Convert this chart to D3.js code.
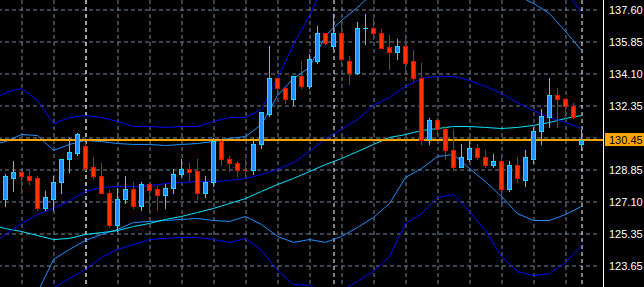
<!DOCTYPE html>
<html><head><meta charset="utf-8">
<script src="https://cdn.jsdelivr.net/npm/d3@7"></script>
<style>html,body{margin:0;padding:0;background:#000;overflow:hidden}</style>
</head><body>
<svg id="c" width="644" height="287"></svg>
<script>
// ---- candle data (bar index = position in array) ----
const open  = [127.21,128.41,128.74,128.52,128.36,126.77,127.26,128.14,129.40,129.73,130.16,128.96,128.52,127.59,125.79,127.21,127.81,126.83,128.08,127.81,127.48,127.86,128.63,128.90,128.79,127.54,128.14,130.43,129.45,129.23,128.85,128.85,130.22,131.91,133.83,133.28,132.73,133.94,133.39,134.81,136.29,135.63,136.34,134.76,134.15,136.58,136.61,136.34,135.57,135.25,135.63,134.76,133.83,130.54,131.58,131.04,129.89,129.01,129.45,130.05,129.51,129.12,129.34,127.81,129.07,128.30,129.45,130.93,131.74,132.90,132.68,132.35,130.24];
const high  = [128.58,129.34,128.79,128.85,128.47,127.70,128.52,129.45,130.55,130.82,130.38,129.51,129.23,127.75,127.86,128.52,128.14,128.19,128.19,127.97,128.08,128.90,129.45,129.23,129.45,128.52,130.55,130.49,129.61,129.34,129.45,130.55,132.02,135.63,133.88,133.39,133.99,134.76,135.14,136.72,136.34,137.38,136.89,135.08,136.89,137.33,137.11,136.56,136.18,136.01,136.18,135.36,134.70,131.69,131.69,131.20,131.04,130.22,130.43,130.27,129.94,129.72,129.61,129.29,129.51,129.94,131.20,132.18,133.88,133.33,132.73,132.46,131.09];
const low   = [126.83,127.65,127.59,128.03,126.66,126.61,126.66,127.54,128.69,129.67,128.85,128.41,127.54,125.73,125.51,127.04,126.77,126.66,126.61,126.61,126.77,127.59,128.52,128.25,127.21,127.37,127.97,129.07,128.79,128.52,128.47,128.63,130.00,131.80,133.00,132.46,132.40,133.33,133.28,134.70,135.69,135.47,134.59,133.50,134.05,135.69,135.96,135.47,134.37,134.92,134.10,133.72,130.27,130.27,130.71,129.45,128.85,128.96,129.29,129.45,128.96,128.96,127.04,127.65,128.14,127.97,129.18,130.27,131.20,131.20,131.69,131.69,129.94];
const close = [128.47,128.74,128.47,128.25,126.77,127.37,128.14,129.40,129.78,130.77,128.92,128.47,127.59,125.79,127.21,127.81,126.83,128.08,127.75,127.48,127.86,128.63,128.90,128.74,127.54,128.14,130.43,129.45,129.18,128.85,128.82,130.27,131.97,133.83,133.28,132.73,133.94,133.44,134.87,136.29,135.79,136.34,134.87,134.15,136.61,136.61,136.34,135.52,135.25,135.63,134.70,133.83,130.49,131.58,131.04,129.89,129.01,129.51,130.05,129.56,129.12,129.29,127.81,129.12,128.36,129.51,130.98,131.80,132.90,132.68,132.35,131.74,130.45];

// ---- indicator lines, read at these bar indices ----
const bandIndex = [-1,0,2,4,6,8,10,12,14,16,18,20,22,24,26,28,30,32,34,36,38,40,42,44,46,48,50,52,54,56,58,60,62,64,66,68,70,72];
const bbMiddle  = [124.97,125.30,125.90,126.39,126.72,127.15,127.65,127.87,127.92,127.92,127.97,128.08,128.14,128.19,128.19,128.25,128.36,128.58,128.85,129.23,129.83,130.55,131.04,131.58,132.35,132.79,133.39,133.83,133.94,133.94,133.72,133.39,133.01,132.51,132.08,131.69,131.42,131.09];
const movingAvg = [125.73,125.62,125.46,125.24,125.02,125.08,125.30,125.40,125.51,125.73,125.90,126.12,126.28,126.50,126.72,126.99,127.26,127.65,128.03,128.36,128.74,129.12,129.45,129.83,130.22,130.60,130.76,130.98,131.09,131.20,131.20,131.15,131.09,131.15,131.26,131.42,131.64,131.80];
const outerUpper = [132.79,133.06,133.28,132.62,131.37,131.69,131.80,131.69,131.48,131.20,131.20,131.15,131.20,131.20,131.48,131.69,131.69,132.13,133.83,135.69,137.27,139.19,140.83,141.92,142.74,143.29,143.56,143.29,142.74,142.19,141.65,141.10,140.55,140.01,139.46,138.91,138.64,137.44];
const innerUpper = [130.27,130.38,130.76,130.71,129.89,130.22,130.44,130.38,130.27,130.22,130.22,130.16,130.22,130.27,130.38,130.55,130.65,131.31,132.90,133.83,134.43,136.18,137.00,137.71,138.53,139.08,139.46,139.62,139.62,139.46,139.19,138.91,138.64,138.37,137.93,137.38,136.40,135.36];
const innerLower = [120.05,120.59,121.41,122.12,123.93,124.48,124.97,125.30,125.57,125.95,126.01,126.06,126.12,126.17,126.06,126.01,126.28,125.84,125.19,124.86,125.02,124.86,125.19,125.68,126.23,126.99,128.41,128.90,129.56,129.67,128.90,128.19,127.37,126.44,126.06,126.06,126.39,126.83];
const outerLower = [117.31,117.86,119.50,121.14,122.40,122.89,123.38,124.04,124.48,124.75,125.02,125.08,125.13,125.13,125.02,124.86,125.08,124.42,123.33,122.56,122.51,122.12,122.23,122.73,123.27,124.09,125.90,126.44,127.32,127.48,126.55,125.51,124.09,123.27,123.05,123.16,123.76,124.69];

// ---- axis ticks ----
const tickValues = [137.60,135.85,134.10,132.35,130.60,128.85,127.10,125.35,123.60];
const tickLabels = ["137.60","135.85","134.10","132.35","","128.85","127.10","125.35","123.65"];
const lastPrice = 130.45;
const lastPriceLabel = "130.45";
const gridBars = [2,6,10,14,18,22,26,30,34,38,42,46,50,54,58,62,66,70];
const separatorBars = [10,41,72];

const svg = d3.select("#c");
const W = 644, H = 287, axisX = 603.5, gridRight = 597;
svg.append("rect").attr("width",W).attr("height",H).attr("fill","#000");

const x = d3.scaleLinear().domain([0,72]).range([5.5,581.5]);
const y = d3.scaleLinear().domain([123.60,137.60]).range([265.5,9.5]);

svg.append("defs").append("clipPath").attr("id","plot")
  .append("rect").attr("x",0).attr("y",0).attr("width",603).attr("height",H);

// horizontal grid
const hg = svg.append("g").attr("transform",`translate(${gridRight},0)`)
  .call(d3.axisLeft(y).tickValues(tickValues).tickSize(gridRight).tickFormat(""));
hg.select(".domain").remove();
hg.selectAll("line").attr("stroke","#778899").attr("stroke-dasharray","4,3");

// vertical grid
const vg = svg.append("g")
  .call(d3.axisBottom(x).tickValues(gridBars).tickSize(H).tickFormat(""));
vg.select(".domain").remove();
vg.selectAll("line").attr("stroke","#778899").attr("stroke-dasharray","4,3");

// period separators
const sg = svg.append("g")
  .call(d3.axisBottom(x).tickValues(separatorBars).tickSize(H).tickFormat(""));
sg.select(".domain").remove();
sg.selectAll("line").attr("stroke","#ffffff").attr("stroke-dasharray","4,3");

const plot = svg.append("g").attr("clip-path","url(#plot)");
const line = d3.line().x(d=>x(d[0])).y(d=>y(d[1]));
const series = [
  [outerLower,"#0000ff"],[outerUpper,"#0000ff"],
  [innerLower,"#1e90ff"],[innerUpper,"#1e90ff"],
  [movingAvg,"#00e5ff"],[bbMiddle,"#0000ff"]
];
series.forEach(([vals,col])=>{
  plot.append("path").datum(d3.zip(bandIndex,vals))
    .attr("d",line).attr("fill","none").attr("stroke",col).attr("stroke-width",1);
});

// last price line
plot.append("line").attr("x1",0).attr("x2",603)
  .attr("y1",Math.round(y(lastPrice))+0.0).attr("y2",Math.round(y(lastPrice))+0.0)
  .attr("stroke","#ffa500").attr("stroke-width",2);

// candles
const cg = plot.append("g");
open.forEach((o,i)=>{
  const c = close[i], up = c >= o;
  const stroke = up ? "#00e5ff" : "#ff0000";
  const fill = up ? "#1e90ff" : "#ff3300";
  const cx = x(i);
  cg.append("line").attr("x1",cx).attr("x2",cx)
    .attr("y1",Math.round(y(high[i]))).attr("y2",Math.round(y(low[i]))+1)
    .attr("stroke",stroke).attr("stroke-width",1);
  let yt = Math.round(y(Math.max(o,c))), yb = Math.round(y(Math.min(o,c)));
  if (yb - yt < 1) {
    cg.append("line").attr("x1",cx-2.5).attr("x2",cx+2.5).attr("y1",yt+0.5).attr("y2",yt+0.5)
      .attr("stroke",stroke).attr("stroke-width",1);
  } else {
    cg.append("rect").attr("x",cx-2).attr("y",yt+0.5).attr("width",4).attr("height",yb-yt)
      .attr("fill",fill).attr("stroke",stroke).attr("stroke-width",1);
  }
});

// axis line
svg.append("line").attr("x1",axisX).attr("x2",axisX).attr("y1",0).attr("y2",H)
  .attr("stroke","#ffffff").attr("stroke-width",1);

// axis labels
const ag = svg.append("g").attr("transform",`translate(${axisX},0)`)
  .call(d3.axisRight(y).tickValues(tickValues).tickSize(0).tickPadding(5.5)
        .tickFormat((d,i)=>tickLabels[i]));
ag.select(".domain").remove();
ag.selectAll("text").attr("fill","#ffffff")
  .style("font-family","'Liberation Sans Narrow','Arial Narrow','Liberation Sans',sans-serif")
  .style("font-size","11px");

// last price label
const ly = y(lastPrice);
svg.append("rect").attr("x",605).attr("y",Math.round(ly)-7).attr("width",39).attr("height",13)
  .attr("fill","#ffa500");
svg.append("text").attr("x",609).attr("y",ly).attr("dy","0.35em")
  .attr("fill","#000").style("font-family","'Liberation Sans Narrow','Arial Narrow','Liberation Sans',sans-serif")
  .style("font-size","11px").text(lastPriceLabel);
</script>
</body></html>
